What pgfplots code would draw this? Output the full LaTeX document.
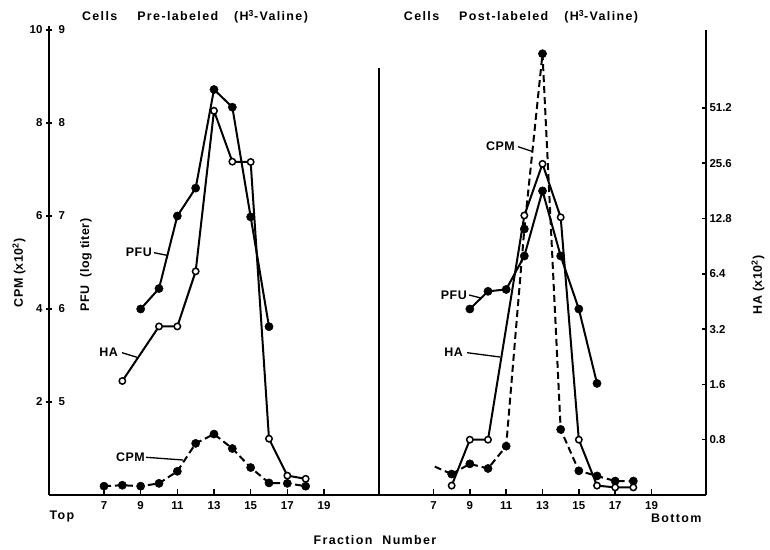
\documentclass[border=0pt]{standalone}
\usepackage{fontspec}
\setmainfont{Liberation Sans}
\newfontfamily\lab[LetterSpace=4]{Liberation Sans Bold}
\newfontfamily\wide[LetterSpace=11]{Liberation Sans Bold}
\newfontfamily\tk{Liberation Sans Bold}
\usepackage{pgfplots}
\pgfplotsset{compat=1.18}

% panels share one frame: x 4..22, axis box 465bp high
\pgfplotsset{
  base/.style={scale only axis, height=465bp, xmin=4, xmax=22, anchor=south west,
    clip=false,
    /pgf/number format/assume math mode=true,
    tick label style={font=\tk\fontsize{11.5}{12}\selectfont},
    axis line style={-, line width=2bp},
    every tick/.style={black, line width=1.5bp},
    major tick length=6bp},
  leftpanel/.style={base, width=330bp, at={(49bp,55bp)}},
  rightpanel/.style={base, width=327bp, at={(379bp,55bp)}},
  cpmrange/.style={ymin=0, ymax=10},
  pfurange/.style={ymin=4, ymax=9, hide axis},
  solidser/.style={black, line width=2bp},
  dashser/.style={black, line width=2bp, dash pattern=on 7bp off 4bp},
  fullmark/.style={mark=*, mark size=4.1bp, mark options={solid, fill=black, draw=black, line width=0.5bp}},
  openmark/.style={mark=*, mark size=3.2bp, mark options={solid, fill=white, draw=black, line width=1.5bp}},
}
\newcommand\lf{\lab\fontsize{12.5}{14}\selectfont}
\newcommand\wf{\wide\fontsize{12.5}{14}\selectfont}

\begin{document}
\begin{tikzpicture}
\useasboundingbox (0,0) rectangle (770bp,550bp);

% ---- left panel: cells pre-labeled ----
\begin{axis}[leftpanel, cpmrange,
  axis x line*=bottom, axis y line*=left,
  xtick={7,9,...,19}, ytick={2,4,6,8,10},
  tick align=center, xtick style={yshift=3bp},
  extra y ticks={2,4,6,8,10}, extra y tick labels={5,6,7,8,9},
  extra y tick style={yticklabel style={anchor=west, xshift=9bp}}]
\addplot[dashser, fullmark] coordinates {(7,0.19) (8,0.21) (9,0.19) (10,0.25) (11,0.51) (12,1.11)
  (13,1.31) (14,1.0) (15,0.59) (16,0.26) (17,0.25) (18,0.19)};
\end{axis}
\begin{axis}[leftpanel, pfurange]
\addplot[solidser, fullmark] coordinates {(9,6.0) (10,6.22) (11,7.0) (12,7.3) (13,8.36) (14,8.17)
  (15,6.99) (16,5.81)};
\end{axis}
\begin{axis}[leftpanel, ymode=log, log basis y=2, ymin=0.4, ymax=136, hide axis]
\addplot[solidser, openmark] coordinates {(8,1.67) (10,3.31) (11,3.31) (12,6.6) (13,49.4) (14,26.1)
  (15,26.0) (16,0.81) (17,0.51) (18,0.49)};
\end{axis}

% ---- right panel: cells post-labeled ----
\begin{axis}[rightpanel, cpmrange,
  axis x line*=bottom, axis y line=none,
  xtick={7,9,...,19}, ytick=\empty,
  tick align=center, xtick style={yshift=3bp}]
\addplot[dashser] coordinates {(7.07,0.61) (8,0.45)};
\addplot[dashser, fullmark] coordinates {(8,0.45) (9,0.67) (10,0.57) (11,1.05) (12,5.72) (13,9.49)
  (14,1.41) (15,0.52) (16,0.41) (17,0.30) (18,0.30)};
\end{axis}
\begin{axis}[rightpanel, pfurange]
\addplot[solidser, fullmark] coordinates {(9,6.0) (10,6.19) (11,6.21) (12,6.57) (13,7.27) (14,6.57)
  (15,6.0) (16,5.2)};
\end{axis}
\begin{axis}[rightpanel, ymode=log, log basis y=2, ymin=0.4, ymax=136,
  axis y line*=right, axis x line=none,
  ytick={0.8,1.6,3.2,6.4,12.8,25.6,51.2},
  yticklabels={0.8,1.6,3.2,6.4,12.8,25.6,51.2},
  minor ytick={}, tick align=inside, major tick length=4bp]
\addplot[solidser, openmark] coordinates {(8,0.45) (9,0.8) (10,0.8) (12,13.3) (13,25.4) (14,13.0)
  (15,0.8) (16,0.45) (17,0.44) (18,0.44)};
\end{axis}

% separator between the panels
\draw[line width=2bp] (379bp,55bp) -- (379bp,482bp);
\draw[line width=2bp] (49bp,519bp) -- (49bp,524bp);

% titles and axis names
\node[font=\wf] at (195bp,533bp) {Cells\hspace{20bp}Pre-labeled\hspace{16bp}(H\textsuperscript{3}-Valine)};
\node[font=\wf] at (521bp,533bp) {Cells\hspace{20bp}Post-labeled\hspace{16bp}(H\textsuperscript{3}-Valine)};
\node[font=\lf, rotate=90] at (19bp,277bp) {CPM (x10\textsuperscript{2})};
\node[font=\lf, rotate=90] at (86bp,285bp) {PFU\hspace{8bp}(log titer)};
\node[font=\lf, rotate=90] at (758bp,265bp) {HA (x10\textsuperscript{2})};
\node[font=\wf] at (375bp,10bp) {Fraction\hspace{10bp}Number};
\node[font=\wf, anchor=west] at (46bp,33bp) {Top};
\node[font=\wf, anchor=east] at (705bp,32bp) {Bottom};

% curve labels with leader lines
\node[font=\lf, anchor=east, inner sep=1bp] at (153bp,297.3bp) {PFU};
\draw[line width=1.3bp] (154bp,297.3bp) -- (167bp,294.7bp);
\node[font=\lf, anchor=east, inner sep=1bp] at (119bp,197.3bp) {HA};
\draw[line width=1.3bp] (122bp,197.3bp) -- (137bp,192.7bp);
\node[font=\lf, anchor=east, inner sep=1bp] at (146bp,92.7bp) {CPM};
\draw[line width=1.3bp] (146bp,92.7bp) -- (183bp,90bp);
\node[font=\lf, anchor=east, inner sep=1bp] at (516bp,403.3bp) {CPM};
\draw[line width=1.3bp] (518bp,403.3bp) -- (533bp,398.3bp);
\node[font=\lf, anchor=east, inner sep=1bp] at (468bp,255bp) {PFU};
\draw[line width=1.3bp] (469bp,255bp) -- (482bp,251.7bp);
\node[font=\lf, anchor=east, inner sep=1bp] at (464bp,197.3bp) {HA};
\draw[line width=1.3bp] (467bp,197.3bp) -- (500bp,193bp);
\end{tikzpicture}
\end{document}
